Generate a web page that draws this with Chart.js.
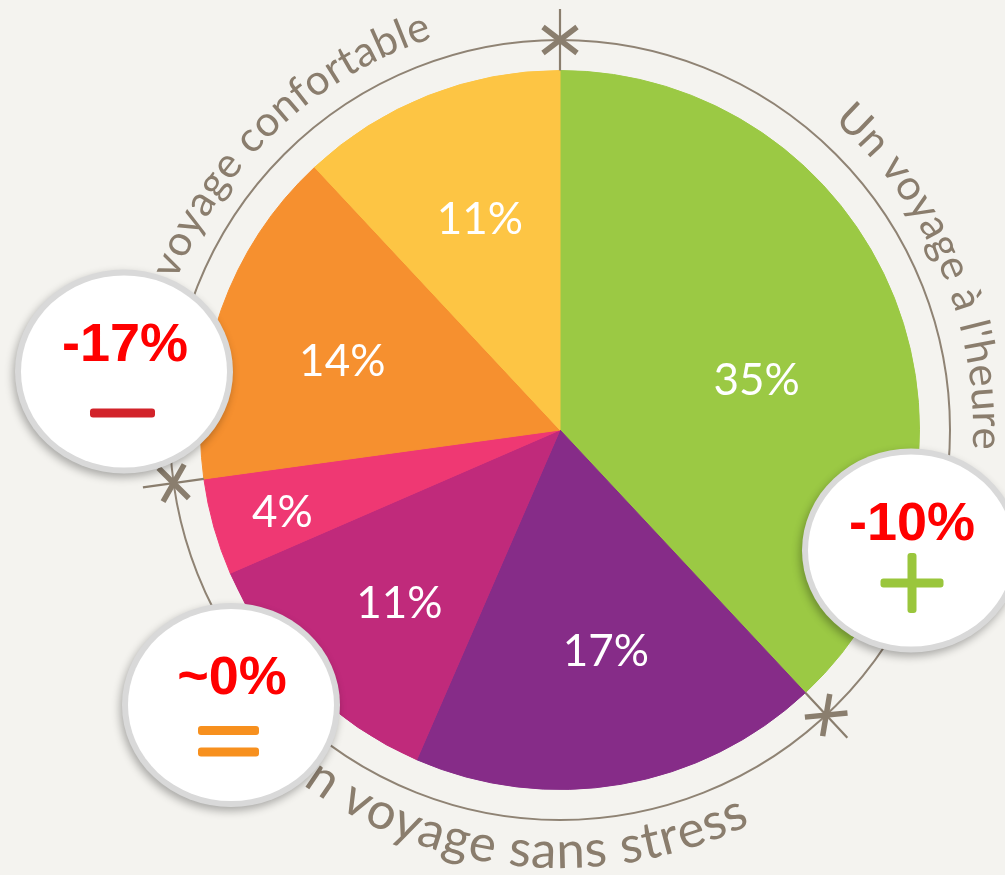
<!DOCTYPE html>
<html><head><meta charset="utf-8">
<script src="https://cdn.jsdelivr.net/npm/chart.js@4/dist/chart.umd.min.js"></script>
<style>html,body{margin:0;padding:0;background:#f4f3ef;overflow:hidden}
#wrap{position:relative;width:1005px;height:875px}</style>
</head><body><div id="wrap"><canvas id="c" width="1005" height="875"></canvas></div>
<script>
const sliceLabels = ["Un voyage à l'heure", 'Un voyage sans stress', 'Un voyage sans stress', 'Un voyage sans stress', 'Un voyage confortable', 'Un voyage confortable'];
const sliceValues = [35, 17, 11, 4, 14, 11];
const sliceColors = ['#9bc944', '#862c88', '#c02a7b', '#ef3873', '#f6902f', '#fdc544'];
const sliceGroup = [0, 1, 1, 1, 2, 2];
const groupNames = ["Un voyage à l'heure", 'Un voyage sans stress', 'Un voyage confortable'];
const groupChanges = ['-10%', '~0%', '-17%'];
const groupSymbols = ['plus', 'equal', 'minus'];

const D = Math.PI / 180;

function arcText(ctx, text, cx, cy, r, a0, a1) {
  const chars = [...text];
  const widths = chars.map(c => ctx.measureText(c).width);
  const total = widths.reduce((s, w) => s + w, 0);
  const arcLen = Math.abs(a1 - a0) * r;
  const track = (arcLen - total) / (chars.length - 1);
  const dir = a1 > a0 ? 1 : -1;
  let pos = 0;
  chars.forEach((c, i) => {
    const a = a0 + dir * (pos + widths[i] / 2) / r;
    ctx.save();
    ctx.translate(cx, cy);
    if (dir > 0) { ctx.rotate(a); ctx.fillText(c, 0, -r); }
    else { ctx.rotate(a - Math.PI); ctx.fillText(c, 0, r); }
    ctx.restore();
    pos += widths[i] + track;
  });
}

function bar(ctx, x, y, w, h) {
  ctx.beginPath();
  ctx.roundRect(x - w / 2, y - h / 2, w, h, 3);
  ctx.fill();
}

const decor = {
  id: 'decor',
  beforeDraw(chart) {
    const ctx = chart.ctx;
    ctx.save();
    ctx.fillStyle = '#f4f3ef';
    ctx.fillRect(0, 0, chart.width, chart.height);
    ctx.restore();
  },
  beforeDatasetsDraw(chart, args, o) {
    const arc0 = chart.getDatasetMeta(0).data[0];
    const ctx = chart.ctx;
    ctx.save();
    ctx.strokeStyle = o.lineColor;
    ctx.lineWidth = 2;
    ctx.beginPath();
    ctx.arc(arc0.x, arc0.y, o.ringRadius, 0, Math.PI * 2);
    ctx.stroke();
    ctx.restore();
  },
  afterDatasetsDraw(chart, args, o) {
    const ctx = chart.ctx;
    const arcs = chart.getDatasetMeta(0).data;
    const cx = arcs[0].x, cy = arcs[0].y, R = arcs[0].outerRadius;
    // value labels
    ctx.save();
    ctx.fillStyle = '#ffffff';
    ctx.font = '400 44px Lato';
    ctx.textAlign = 'center';
    ctx.textBaseline = 'alphabetic';
    arcs.forEach((a, i) => {
      const mid = (a.startAngle + a.endAngle) / 2 + o.labelShift[i] * D;
      const r = R * o.labelRadius[i];
      const x = cx + r * Math.cos(mid), y = cy + r * Math.sin(mid);
      ctx.fillText(sliceValues[i] + '%', x, y + 16);
    });
    ctx.restore();
    // group markers
    const groupStart = [];
    arcs.forEach((a, i) => { if (groupStart[sliceGroup[i]] === undefined) groupStart[sliceGroup[i]] = a.startAngle + Math.PI / 2; });
    ctx.save();
    ctx.strokeStyle = o.markColor;
    groupStart.forEach(ang => {
      ctx.save();
      ctx.translate(cx, cy);
      ctx.rotate(ang);
      ctx.lineWidth = 2.2;
      ctx.beginPath(); ctx.moveTo(0, -R); ctx.lineTo(0, -o.ringRadius - 31); ctx.stroke();
      ctx.lineWidth = 5.5;
      const rr = o.ringRadius;
      ctx.beginPath();
      ctx.moveTo(-17, -rr - 13); ctx.lineTo(17, -rr + 13);
      ctx.moveTo(-17, -rr + 13); ctx.lineTo(17, -rr - 13);
      ctx.stroke();
      ctx.restore();
    });
    ctx.restore();
  },
  afterDraw(chart, args, o) {
    const ctx = chart.ctx;
    const arcs = chart.getDatasetMeta(0).data;
    const cx = arcs[0].x, cy = arcs[0].y;
    // curved group titles
    ctx.save();
    ctx.fillStyle = o.textColor;
    ctx.textAlign = 'center';
    ctx.textBaseline = 'alphabetic';
    groupNames.forEach((name, g) => {
      const t = o.titles[g];
      ctx.font = '400 ' + t.size + 'px Lato';
      arcText(ctx, name, cx, cy, t.r, t.from * D, t.to * D);
    });
    ctx.restore();
    // badges
    groupChanges.forEach((txt, g) => {
      const b = o.badges[g];
      const x = cx + b.dx, y = cy + b.dy;
      ctx.save();
      ctx.shadowColor = 'rgba(0,0,0,0.30)';
      ctx.shadowBlur = 9; ctx.shadowOffsetX = -2; ctx.shadowOffsetY = 4;
      ctx.fillStyle = '#d9d9d9';
      ctx.beginPath(); ctx.ellipse(x, y, 109, 102, 0, 0, Math.PI * 2); ctx.fill();
      ctx.restore();
      ctx.save();
      ctx.fillStyle = '#ffffff';
      ctx.beginPath(); ctx.ellipse(x, y, 103, 96, 0, 0, Math.PI * 2); ctx.fill();
      ctx.fillStyle = '#ff0000';
      ctx.font = 'bold 54px "Liberation Sans", Arial, sans-serif';
      ctx.textAlign = 'center';
      ctx.textBaseline = 'alphabetic';
      ctx.fillText(txt, x + 1, y - 11);
      const s = groupSymbols[g];
      if (s === 'plus') {
        ctx.fillStyle = '#9ac63c';
        bar(ctx, x + 1, y + 32.5, 63, 9);
        bar(ctx, x + 1, y + 32.5, 9, 60);
      } else if (s === 'minus') {
        ctx.fillStyle = '#d2232a';
        bar(ctx, x - 1.5, y + 41.5, 65, 9);
      } else {
        ctx.fillStyle = '#f7901e';
        bar(ctx, x - 2.5, y + 25.5, 61, 9);
        bar(ctx, x - 2.5, y + 47, 61, 9);
      }
      ctx.restore();
    });
  }
};

new Chart(document.getElementById('c'), {
  type: 'pie',
  data: {
    labels: sliceLabels,
    datasets: [{
      data: sliceValues,
      backgroundColor: sliceColors,
      borderColor: sliceColors,
      borderWidth: 1
    }]
  },
  options: {
    responsive: false,
    animation: false,
    devicePixelRatio: 1,
    events: [],
    layout: { padding: { left: 200, right: 85, top: 70, bottom: 85 } },
    plugins: {
      legend: { display: false },
      tooltip: { enabled: false },
      decor: {
        lineColor: '#8f8374',
        markColor: '#8a7e6e',
        textColor: '#8a7d6d',
        ringRadius: 390,
        labelRadius: [0.565, 0.625, 0.655, 0.805, 0.636, 0.63],
        labelShift: [7, -2, -2, -0.7, -1.8, 0.8],
        titles: [
          { r: 413, from: 41.5, to: 92.7, size: 42 },
          { r: 438, from: 221, to: 154.2, size: 51 },
          { r: 412, from: -78, to: -18, size: 42 }
        ],
        badges: [
          { dx: 351, dy: 120.5 },
          { dx: -329, dy: 275 },
          { dx: -436, dy: -58.5 }
        ]
      }
    }
  },
  plugins: [decor]
});
</script></body></html>
